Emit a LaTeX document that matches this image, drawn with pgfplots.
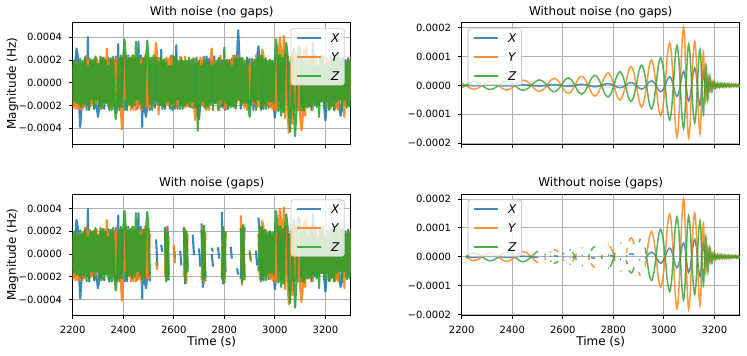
\documentclass[border=0pt]{standalone}
\usepackage{fontspec}
\setmainfont{DejaVu Sans}
\usepackage{pgfplots}
\pgfplotsset{compat=1.18}
\usepackage{pgfplotstable}
\definecolor{cX}{HTML}{1F77B4}
\definecolor{cY}{HTML}{FF7F0E}
\definecolor{cZ}{HTML}{2CA02C}
\definecolor{gridc}{HTML}{B0B0B0}

% values in units of 1e-4 Hz
\pgfplotstableread{
t X Y Z
2200 1.65 -2.2 2.0
2205 -2.0 1.65 -1.65
2210 1.65 -2.3 2.0
2215 3.0 1.8 -1.8
2220 2.4 -2.3 1.65
2225 -1.8 1.65 -1.9
2230 -3.9 -2.3 2.1
2235 -2.1 1.8 -2.15
2240 1.9 -2.3 1.8
2245 -2.1 2.0 -1.9
2250 2.3 -2.1 2.2
2255 -2.4 2.4 -1.9
2260 4.0 -1.5 1.5
2265 -2.4 2.0 -2.4
2270 1.9 -2.1 2.1
2275 -1.8 1.8 -1.5
2280 1.9 -1.9 2.0
2285 -2.3 2.1 -2.3
2290 2.0 -1.9 2.3
2295 -2.15 2.15 -1.5
2300 -3.0 -1.5 1.65
2305 -2.15 1.8 -2.15
2310 2.0 -2.3 2.3
2315 -1.9 2.2 -2.3
2320 1.9 -2.0 2.2
2325 -2.3 2.2 -1.8
2330 1.9 -1.65 2.0
2335 -1.8 3.0 -1.8
2340 2.2 -2.1 1.5
2345 -2.4 1.8 -2.4
2350 2.1 -2.15 2.15
2355 -1.5 2.15 -2.4
2360 1.8 -1.8 2.3
2365 -2.3 2.0 -1.5
2370 2.3 -2.4 -3.2
2375 -2.0 2.2 -2.3
2380 3.4 -2.2 2.1
2385 -2.4 2.1 -2.15
2390 2.2 -2.2 2.4
2395 -1.65 -4.1 -2.15
2400 2.15 -2.0 2.2
2405 -2.4 2.2 3.8
2410 1.9 -1.5 2.3
2415 -2.4 2.4 -2.2
2420 2.4 -1.9 2.1
2425 -1.9 2.15 -1.9
2430 2.2 -2.4 2.2
2435 -2.1 2.4 -2.15
2440 1.65 -2.4 2.4
2445 -1.5 2.1 -2.0
2450 2.1 -2.4 3.6
2455 -2.3 2.1 -1.5
2460 3.6 -2.2 2.2
2465 -1.5 2.0 -1.9
2470 2.4 -2.4 1.65
2475 -3.9 2.15 -2.2
2480 2.0 -2.15 2.15
2485 -2.4 2.4 -2.15
2490 -3.0 -2.15 2.2
2495 -2.0 2.2 3.7
2500 2.1 -2.15 2.2
2505 -2.4 1.8 -1.9
2510 1.8 -2.2 2.2
2515 -1.9 2.2 -2.4
2520 1.5 -1.8 2.4
2525 -2.2 2.0 -1.5
2530 2.3 3.5 2.2
2535 -1.65 2.2 -1.9
2540 2.15 -2.8 1.8
2545 -2.0 2.15 -2.0
2550 2.9 -1.9 2.2
2555 -2.15 1.5 -2.3
2560 1.8 -1.9 2.0
2565 -2.3 2.1 -2.15
2570 2.15 -1.9 1.8
2575 -1.8 2.1 -1.65
2580 1.5 -2.0 1.5
2585 -2.3 2.2 -2.2
2590 2.4 -2.1 1.5
2595 -2.4 2.4 -1.9
2600 2.3 -2.0 2.3
2605 -2.15 2.1 -2.3
2610 3.3 -2.2 2.1
2615 -2.3 1.65 -1.5
2620 1.5 -1.9 1.9
2625 -1.9 2.3 -2.3
2630 2.0 -1.8 2.2
2635 -2.3 1.65 -2.1
2640 1.8 -2.2 1.9
2645 -2.1 2.3 -2.0
2650 1.9 -2.1 1.9
2655 -2.0 1.8 -1.8
2660 1.8 -2.1 2.2
2665 -1.65 1.65 -2.15
2670 1.65 -2.15 2.0
2675 -2.2 2.15 -1.65
2680 1.5 -2.0 2.1
2685 -2.15 -3.3 -2.2
2690 2.2 -2.2 1.8
2695 -2.4 2.0 -4.2
2700 -3.2 -1.8 1.9
2705 -1.8 2.2 -2.1
2710 1.65 -2.0 1.5
2715 -2.0 2.15 -1.65
2720 2.3 -2.15 1.9
2725 -1.5 1.9 -2.3
2730 2.3 -2.4 2.0
2735 -2.15 1.65 -2.15
2740 2.1 -2.4 1.8
2745 -1.65 1.9 -1.9
2750 1.9 3.0 1.5
2755 -1.8 1.5 -2.4
2760 2.3 -1.5 1.65
2765 -1.8 1.9 -1.8
2770 1.9 -1.5 1.8
2775 -1.5 2.1 -2.4
2780 2.15 -2.4 2.2
2785 -2.15 2.4 -1.5
2790 2.0 -1.8 1.8
2795 -2.2 1.65 -2.0
2800 1.5 -2.3 3.1
2805 -2.4 1.65 -1.8
2810 1.9 -2.2 2.0
2815 -2.3 2.0 -2.3
2820 2.0 -1.65 1.9
2825 -2.0 1.9 -2.15
2830 2.15 -2.1 1.5
2835 -1.5 2.4 -2.1
2840 2.4 -2.15 2.1
2845 -2.1 2.15 -2.3
2850 2.1 -1.8 2.1
2855 4.6 2.4 -1.5
2860 2.1 -1.5 2.2
2865 -2.3 2.0 -1.9
2870 1.8 -1.9 2.2
2875 -1.8 2.1 -1.8
2880 1.9 -2.2 1.65
2885 -1.65 1.8 -1.8
2890 2.2 -2.4 2.15
2895 -1.8 1.5 -2.0
2900 2.1 -1.5 -3.0
2905 -1.9 1.9 -1.65
2910 2.1 -1.9 1.8
2915 -2.4 2.0 -1.65
2920 2.0 -1.8 2.0
2925 -1.5 2.4 -2.4
2930 2.3 -2.1 2.2
2935 3.2 1.8 -1.5
2940 1.8 -2.15 2.4
2945 -2.3 1.5 -2.4
2950 2.0 2.9 2.4
2955 -2.3 2.4 -1.9
2960 1.65 -2.1 2.1
2965 -1.65 2.15 -2.3
2970 1.65 -1.9 1.9
2975 -2.2 1.5 -1.65
2980 2.0 -2.2 2.0
2985 -2.1 1.9 -1.65
2990 1.5 -2.3 1.9
2995 -1.8 1.65 -1.8
3000 -3.1 -2.45 2.2
3005 -2.0 2.35 3.8
3010 1.65 -2.45 2.5
3015 -1.5 2.35 -2.5
3020 1.8 4.0 2.45
3025 -2.2 2.65 -2.9
3030 1.5 -2.35 2.2
3035 -1.65 4.1 -2.6
3040 2.4 -3.1 2.45
3045 -1.9 2.5 3.5
3050 2.3 -2.45 2.45
3055 -2.1 -4.4 -2.45
3060 1.8 -3.1 -4.3
3065 -1.65 2.2 -2.2
3070 1.65 -3.6 2.6
3075 3.0 2.65 -2.45
3080 2.1 -2.45 -4.7
3085 -2.1 2.35 -2.6
3090 2.1 -2.45 2.9
3095 -2.4 2.45 3.2
3100 2.15 -2.9 2.9
3105 -2.0 -4.2 -2.45
3110 2.0 -3.1 2.05
3115 -2.15 2.9 -2.45
3120 1.8 -2.9 2.05
3125 -1.8 3.2 -2.1
3130 2.4 -2.2 1.65
3135 -2.0 2.1 -2.1
3140 2.3 -1.9 1.8
3145 -2.4 1.65 -2.2
3150 3.5 -2.4 2.3
3155 -2.0 2.1 -1.8
3160 2.4 -1.8 1.5
3165 -1.9 2.1 -2.15
3170 1.5 -1.65 1.5
3175 -1.9 1.5 -3.0
3180 2.3 -1.65 2.2
3185 -1.65 2.4 -1.65
3190 2.4 -1.5 2.0
3195 -2.15 1.65 -2.2
3200 -3.3 -1.65 1.5
3205 -2.0 2.1 -1.65
3210 1.8 -2.2 1.5
3215 -2.3 1.9 -2.4
3220 2.3 -2.3 2.1
3225 -1.65 1.9 -2.1
3230 1.5 -2.0 2.4
3235 -2.4 1.65 -2.4
3240 2.2 -2.3 2.2
3245 -2.1 2.2 -1.65
3250 2.15 -2.4 2.8
3255 -2.15 1.9 -1.5
3260 -2.9 -1.5 2.1
3265 -2.4 2.2 -2.4
3270 1.9 -1.5 2.2
3275 -1.9 -3.0 -1.5
3280 2.0 1.65 1.8
3285 -2.0 -2.1 -2.2
3290 2.15 2.0 2.0
3295 -1.65 -1.5 -2.1
3300 1.8 2.3 1.9
}\noisetab

\pgfplotstableread{
t X Y Z
2530 1.3 -0.7 nan
2535 -1.1 -1.4 nan
2540 nan nan nan
2550 0.8 nan nan
2555 0.2 nan nan
2558 nan nan nan
2565 2.2 -1.9 2.4
2570 -2.0 2.3 -2.4
2575 2.4 -2.2 1.9
2580 -1.8 1.6 -2.3
2590 nan nan nan
2600 0.6 0.8 nan
2605 -0.4 -0.8 nan
2615 nan nan nan
2625 0.3 nan nan
2630 -1.0 nan nan
2635 nan nan nan
2640 2.4 -2.0 2.2
2645 -2.6 2.2 -2.4
2650 1.5 -2.5 2.0
2655 -1.2 1.8 -1.6
2665 nan nan nan
2675 1.7 nan nan
2680 -0.1 nan nan
2690 nan nan nan
2700 0.5 nan nan
2705 -1.1 nan nan
2707 nan nan nan
2710 2.7 -2.3 2.1
2715 -2.9 2.5 -2.2
2720 1.9 -2.6 2.5
2725 -2.0 1.9 -2.4
2740 nan nan nan
2750 0.0 nan 0.55
2755 -1.1 nan 0.2
2765 nan nan nan
2775 0.6 nan nan
2780 -0.4 nan nan
2785 nan nan nan
2790 3.7 -2.1 -2.2
2795 -2.6 2.4 2.4
2800 2.0 -2.5 -2.5
2805 -1.6 2.0 2.0
2815 nan nan nan
2825 0.65 nan nan
2830 -0.4 nan nan
2840 nan nan nan
2850 -1.25 nan nan
2855 -1.8 nan nan
2860 nan nan nan
2865 -2.2 3.4 2.3
2870 2.1 -2.7 -2.5
2875 -1.9 2.4 2.6
2880 2.4 -2.0 -2.3
2890 nan nan nan
2900 nan 0.35 0.2
2905 nan -0.7 -0.5
2915 nan nan nan
2925 0.3 nan nan
2930 -1.0 nan nan
}\noisegap

\pgfplotstableread{
t X Y Z
2183 0.015 0.120 -0.120
2199.25 0.011 0.085 -0.085
2215.5 0 0 0
2231.75 -0.011 -0.092 0.092
2248 -0.015 -0.130 0.130
2264.25 -0.011 -0.092 0.092
2280.5 0 0 0
2296.75 0.011 0.099 -0.099
2313 0.015 0.140 -0.140
2329.25 0.011 0.099 -0.099
2345.5 0 0 0
2361.75 -0.014 -0.113 0.106
2378 -0.020 -0.160 0.150
2394.25 -0.014 -0.113 0.106
2410.5 0 0 0
2426.75 0.014 0.127 -0.120
2443 0.020 0.180 -0.170
2459.25 0.014 0.127 -0.120
2475.5 0 0 0
2491.75 -0.018 -0.148 0.134
2503 -0.024 -0.204 0.184
2508 -0.025 -0.210 0.190
2522.5 -0.018 -0.148 0.134
2537 0 0 0
2551.5 0.021 0.170 -0.156
2566 0.030 0.240 -0.220
2580 0.021 0.170 -0.156
2594 0 0 0
2608 -0.025 -0.198 0.184
2622 -0.035 -0.280 0.260
2635 -0.025 -0.198 0.184
2648 0 0 0
2661 0.028 0.226 -0.212
2674 0.040 0.320 -0.300
2687.25 0.028 0.226 -0.212
2700.5 0 0 0
2713.75 -0.035 -0.262 0.247
2727 -0.050 -0.370 0.350
2740 -0.035 -0.262 0.247
2753 0 0 0
2766 0.042 0.304 -0.283
2779 0.060 0.430 -0.400
2790.75 0.042 0.304 -0.283
2802.5 0 0 0
2814.25 -0.057 -0.361 0.339
2826 -0.080 -0.510 0.480
2837 -0.057 -0.361 0.339
2848 0 0 0
2859 0.071 0.467 -0.396
2870 0.100 0.660 -0.560
2880.5 0.071 0.467 -0.396
2891 0 0 0
2901.5 -0.092 -0.530 0.495
2912 -0.130 -0.750 0.700
2921.75 -0.092 -0.530 0.495
2931.5 0 0 0
2941.25 0.113 0.622 -0.580
2951 0.160 0.880 -0.820
2960 0.113 0.622 -0.580
2969 0 0 0
2978 -0.156 -0.742 0.672
2987 -0.220 -1.050 0.950
2996 -0.156 -0.742 0.672
3005 0 0 0
3014 0.212 1.046 -0.848
3023 0.300 1.480 -1.200
3030.25 0.212 1.046 -0.848
3037.5 0 0 0
3044.75 -0.269 -1.273 0.976
3052 -0.380 -1.800 1.380
3058.5 -0.269 -1.273 0.976
3065 0 0 0
3071.5 0.339 1.414 -1.061
3078 0.480 2.000 -1.500
3083 0.339 1.414 -1.061
3088 0 0 0
3093 -0.382 -1.287 1.004
3098 -0.540 -1.820 1.420
3104 -0.382 -1.287 1.004
3110 0 0 0
3116 0.424 1.075 -0.919
3122 0.600 1.520 -1.300
3127.25 0.424 1.075 -0.919
3132.5 0 0 0
3137.75 -0.481 -1.188 0.884
3143 -0.680 -1.680 1.250
3146.5 -0.481 -1.188 0.884
3150 0 0 0
3153.5 0.354 0.813 -0.707
3157 0.500 1.150 -1.000
3161.5 0 0 0
3166 -0.350 -0.550 0.700
3170 0 0 0
3174 0.250 0.350 -0.500
3178 0 0 0
3182 -0.160 -0.220 0.320
3186 0 0 0
3190 0.110 0.150 -0.220
3194 0 0 0
3198 -0.080 -0.100 0.140
3201.5 0 0 0
3205 0.050 0.080 -0.100
3208.5 0 0 0
3212 -0.050 -0.070 0.090
3215.5 0 0 0
3219 0.040 0.070 -0.080
3222.5 0 0 0
3226 -0.040 -0.060 0.080
3229.5 0 0 0
3233 0.040 0.060 -0.070
3236.5 0 0 0
3240 -0.030 -0.060 0.070
3243.5 0 0 0
3247 0.030 0.050 -0.060
3250.5 0 0 0
3254 -0.030 -0.050 0.060
3257.5 0 0 0
3261 0.030 0.050 -0.060
3264.5 0 0 0
3268 -0.030 -0.050 0.050
3271.5 0 0 0
3275 0.030 0.040 -0.050
3278.5 0 0 0
3282 -0.020 -0.040 0.050
3285.5 0 0 0
3289 0.020 0.040 -0.050
3292.5 0 0 0
3296 -0.020 -0.040 0.040
3299.5 0 0 0
3303 0.020 0.040 -0.040
}\cleantab

\pgfplotstableread{
t X Y Z
2528 -0.013 -0.103 0.094
2532 -0.007 -0.059 0.053
2540 nan nan nan
2550 0.018 0.149 -0.136
2554 0.023 0.183 -0.171
2560 nan nan nan
2565 0.030 0.240 -0.220
2569 0.030 0.239 -0.218
2573.5 0.027 0.224 -0.203
2578 0.024 0.195 -0.176
2582 0.019 0.157 -0.142
2590 nan nan nan
2600 -0.011 -0.087 0.081
2604 -0.017 -0.142 0.132
2615 nan nan nan
2627 -0.033 -0.271 0.252
2631 -0.030 -0.245 0.228
2634 nan nan nan
2638 -0.020 -0.166 0.155
2642 -0.013 -0.105 0.098
2646 -0.004 -0.036 0.033
2650 0.005 0.036 -0.034
2654 0.014 0.108 -0.101
2665 nan nan nan
2675 0.040 0.320 -0.300
2679 0.039 0.311 -0.291
2690 nan nan nan
2702 -0.004 -0.031 0.029
2706 -0.015 -0.112 0.107
2709 nan nan nan
2712 -0.028 -0.225 0.212
2716 -0.036 -0.286 0.270
2720 -0.044 -0.333 0.314
2724 -0.048 -0.362 0.340
2728 -0.050 -0.370 0.350
2740 nan nan nan
2752 -0.003 -0.024 0.023
2756 0.010 0.073 -0.068
2765 nan nan nan
2778 0.060 0.429 -0.399
2782 0.059 0.426 -0.397
2784 nan nan nan
2787 0.053 0.382 -0.357
2792 0.041 0.292 -0.273
2797 0.023 0.166 -0.155
2802 0.002 0.015 -0.014
2807 -0.021 -0.141 0.132
2815 nan nan nan
2827 -0.080 -0.511 0.480
2831 -0.077 -0.494 0.460
2840 nan nan nan
2851 0.019 0.127 -0.111
2855 0.044 0.294 -0.256
2858 nan nan nan
2862 0.078 0.532 -0.462
2867 0.095 0.635 -0.544
2872 0.100 0.657 -0.560
2877 0.089 0.585 -0.499
2882 0.065 0.428 -0.366
2890 nan nan nan
2902 -0.092 -0.534 0.500
2906 -0.114 -0.664 0.620
2915 nan nan nan
2926 -0.058 -0.342 0.317
2930 -0.017 -0.097 0.091
}\cleangap

\pgfplotsset{
  common/.style={
    scale only axis, width=278bp, height=121.6bp,
    xmin=2200, xmax=3300,
    xtick={2200,2400,2600,2800,3000,3200},
    scaled ticks=false,
    grid=major,
    major grid style={draw=gridc, line width=0.8bp},
    axis line style={line width=0.8bp, black},
    tick align=outside, tick pos=left,
    major tick length=3.5bp,
    major tick style={line width=0.8bp, black},
    tick label style={font=\fontsize{10bp}{12bp}\selectfont},
    yticklabel style={anchor=east, inner sep=0pt, xshift=-7bp},
    xticklabel style={anchor=base, inner sep=0pt, yshift=-14.3bp},
    every axis title shift=0pt,
    title style={at={(axis description cs:0.5,1)}, anchor=base, yshift=7.5bp,
      font=\fontsize{12bp}{14bp}\selectfont},
    label style={font=\fontsize{12bp}{14bp}\selectfont},
    legend style={
      font=\fontsize{12bp}{14bp}\selectfont,
      draw=black!20, fill=white, fill opacity=0.8, text opacity=1,
      rounded corners=2.5bp, line width=0.8bp,
      inner xsep=4.8bp, inner ysep=4.8bp,
      row sep=10.2bp,
      nodes={inner xsep=0bp, inner ysep=0bp, text height=8.8bp, text depth=0bp},
      /tikz/every odd column/.append style={column sep=9.6bp},
    },
    legend image code/.code={\draw[##1, line width=1.7bp, draw opacity=0.85] (0bp,0bp) -- (24bp,0bp);},
    legend cell align=left,
  },
  leftax/.style={common, ymin=-5.41, ymax=5.27,
    ytick={-4,-2,0,2,4},
    yticklabels={−0.0004,−0.0002,0.0000,0.0002,0.0004},
    ylabel={Magnitude (Hz)},
    ylabel style={at={(axis description cs:-0.204,0.5)}, anchor=base},
    legend style={at={(1,1)}, anchor=north east, xshift=-6bp}},
  rightax/.style={common, ymin=-2.04, ymax=2.17,
    ytick={-2,-1,0,1,2},
    yticklabels={−0.0002,−0.0001,0.0000,0.0001,0.0002},
    legend style={at={(0,1)}, anchor=north west, xshift=6bp}},
  topax/.style={xticklabels={}, legend style={yshift=-5.6bp}},
  botax/.style={xticklabels={2200,2400,2600,2800,3000,3200},
    legend style={yshift=-5.3bp},
    xlabel={Time (s)},
    xlabel style={at={(axis description cs:0.5,0)}, anchor=base, yshift=-29.5bp}},
  sX/.style={draw=cX, draw opacity=0.8},
  sY/.style={draw=cY, draw opacity=0.8},
  sZ/.style={draw=cZ, draw opacity=0.8},
  nz/.style={line width=2.1bp, line join=round, draw opacity=0.88},
  cl/.style={line width=1.5bp, smooth},
}

\begin{document}
\begin{tikzpicture}
\path[use as bounding box] (0,0) rectangle (747bp,356bp);

% top left
\begin{axis}[leftax, topax, at={(72.7bp,211.7bp)}, anchor=south west,
  title={With noise (no gaps)}]
\addplot[sX, nz] table[x=t, y=X]{\noisetab}; \addlegendentry{\textit{X}}
\addplot[sY, nz] table[x=t, y=Y]{\noisetab}; \addlegendentry{\textit{Y}}
\addplot[sZ, nz] table[x=t, y=Z]{\noisetab}; \addlegendentry{\textit{Z}}
\end{axis}

% top right
\begin{axis}[rightax, topax, at={(461.7bp,211.7bp)}, anchor=south west,
  title={Without noise (no gaps)}]
\addplot[sX, cl] table[x=t, y=X]{\cleantab}; \addlegendentry{\textit{X}}
\addplot[sY, cl] table[x=t, y=Y]{\cleantab}; \addlegendentry{\textit{Y}}
\addplot[sZ, cl] table[x=t, y=Z]{\cleantab}; \addlegendentry{\textit{Z}}
\end{axis}

% bottom left
\begin{axis}[leftax, botax, at={(72.7bp,40.3bp)}, anchor=south west,
  title={With noise (gaps)}]
\addplot[sX, nz, restrict x to domain=2200:2505] table[x=t, y=X]{\noisetab}; \addlegendentry{\textit{X}}
\addplot[sX, nz, restrict x to domain=2935:3300, forget plot] table[x=t, y=X]{\noisetab};
\addplot[sX, nz, unbounded coords=jump, forget plot] table[x=t, y=X]{\noisegap};
\addplot[sY, nz, restrict x to domain=2200:2505] table[x=t, y=Y]{\noisetab}; \addlegendentry{\textit{Y}}
\addplot[sY, nz, restrict x to domain=2935:3300, forget plot] table[x=t, y=Y]{\noisetab};
\addplot[sY, nz, unbounded coords=jump, forget plot] table[x=t, y=Y]{\noisegap};
\addplot[sZ, nz, restrict x to domain=2200:2505] table[x=t, y=Z]{\noisetab}; \addlegendentry{\textit{Z}}
\addplot[sZ, nz, restrict x to domain=2935:3300, forget plot] table[x=t, y=Z]{\noisetab};
\addplot[sZ, nz, unbounded coords=jump, forget plot] table[x=t, y=Z]{\noisegap};
\end{axis}

% bottom right
\begin{axis}[rightax, botax, at={(461.7bp,40.3bp)}, anchor=south west,
  title={Without noise (gaps)}]
\addplot[sX, cl, restrict x to domain=2200:2503] table[x=t, y=X]{\cleantab}; \addlegendentry{\textit{X}}
\addplot[sX, cl, restrict x to domain=2931:3310, forget plot] table[x=t, y=X]{\cleantab};
\addplot[sX, cl, unbounded coords=jump, forget plot] table[x=t, y=X]{\cleangap};
\addplot[sY, cl, restrict x to domain=2200:2503] table[x=t, y=Y]{\cleantab}; \addlegendentry{\textit{Y}}
\addplot[sY, cl, restrict x to domain=2931:3310, forget plot] table[x=t, y=Y]{\cleantab};
\addplot[sY, cl, unbounded coords=jump, forget plot] table[x=t, y=Y]{\cleangap};
\addplot[sZ, cl, restrict x to domain=2200:2503] table[x=t, y=Z]{\cleantab}; \addlegendentry{\textit{Z}}
\addplot[sZ, cl, restrict x to domain=2931:3310, forget plot] table[x=t, y=Z]{\cleantab};
\addplot[sZ, cl, unbounded coords=jump, forget plot] table[x=t, y=Z]{\cleangap};
\end{axis}
\end{tikzpicture}
\end{document}
